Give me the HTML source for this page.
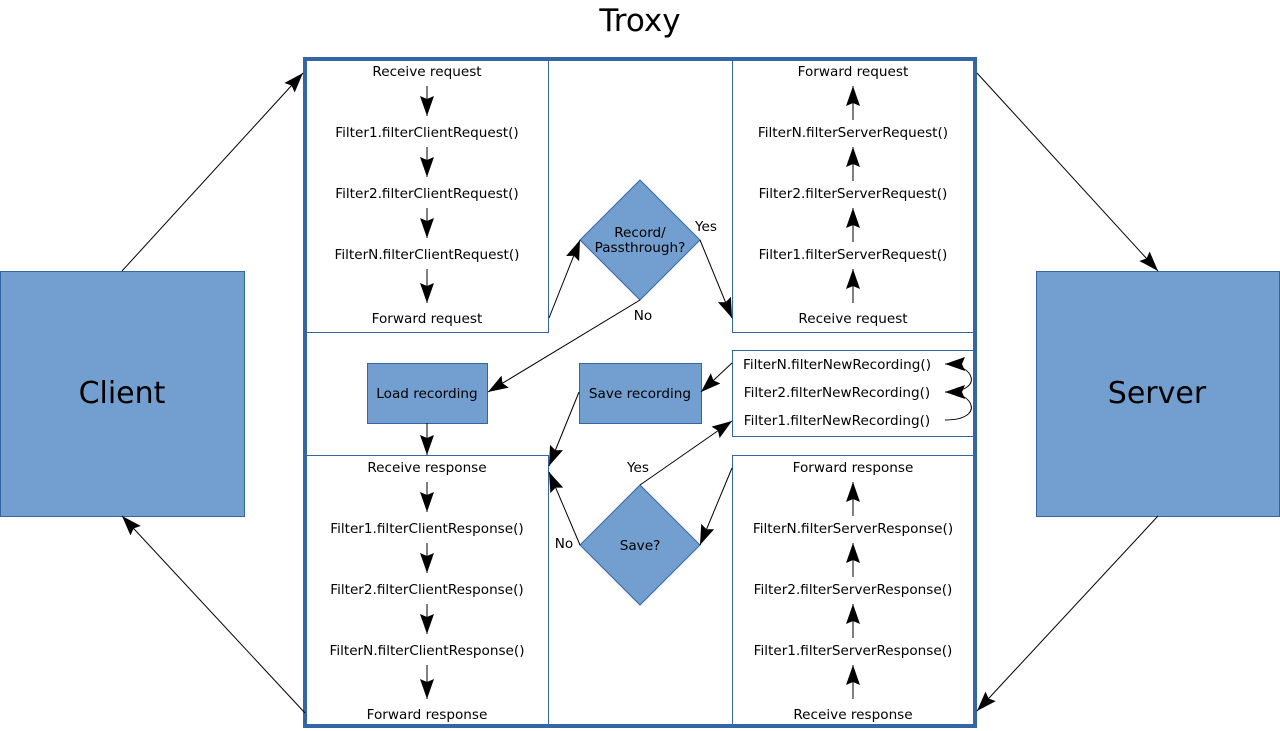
<!DOCTYPE html>
<html><head><meta charset="utf-8"><style>
html,body{margin:0;padding:0;background:#fff;}
svg{display:block;font-family:"DejaVu Sans","Liberation Sans",sans-serif;}
</style></head><body>
<svg width="1280" height="731" viewBox="0 0 1280 731" xmlns="http://www.w3.org/2000/svg">
<defs>
<marker id="a" viewBox="0 0 20 14" refX="20" refY="7" markerWidth="20" markerHeight="15" markerUnits="userSpaceOnUse" orient="auto">
<path d="M0,0 L20,7 L0,14 L3,7 Z" fill="#000"/>
</marker>
</defs>
<text x="640" y="31" font-size="31" text-anchor="middle">Troxy</text>

<rect x="0.5" y="271.5" width="244" height="245" fill="#729fcf" stroke="#3465a4"/>
<text x="122" y="403" font-size="30" text-anchor="middle">Client</text>
<rect x="1036.5" y="271.5" width="243" height="245" fill="#729fcf" stroke="#3465a4"/>
<text x="1157" y="403" font-size="30" text-anchor="middle">Server</text>

<rect x="305" y="59" width="670" height="667" fill="#fff" stroke="#3465a4" stroke-width="4"/>

<g fill="none" stroke="#3465a4" stroke-width="1">
<path d="M307,60.5 H548.5 V332.5 H307"/>
<path d="M973,60.5 H732.5 V332.5 H973"/>
<path d="M307,455.5 H548.5 V725"/>
<path d="M973,455.5 H732.5 V725"/>
<path d="M973,350.5 H732.5 V436.5 H973"/>
</g>

<g font-size="13.6" text-anchor="middle" fill="#000">
<text x="427" y="76">Receive request</text>
<text x="427" y="137">Filter1.filterClientRequest()</text>
<text x="427" y="198">Filter2.filterClientRequest()</text>
<text x="427" y="259">FilterN.filterClientRequest()</text>
<text x="427" y="323">Forward request</text>

<text x="853" y="76">Forward request</text>
<text x="853" y="137">FilterN.filterServerRequest()</text>
<text x="853" y="198">Filter2.filterServerRequest()</text>
<text x="853" y="259">Filter1.filterServerRequest()</text>
<text x="853" y="323">Receive request</text>

<text x="427" y="472">Receive response</text>
<text x="427" y="533">Filter1.filterClientResponse()</text>
<text x="427" y="594">Filter2.filterClientResponse()</text>
<text x="427" y="655">FilterN.filterClientResponse()</text>
<text x="427" y="719">Forward response</text>

<text x="853" y="472">Forward response</text>
<text x="853" y="533">FilterN.filterServerResponse()</text>
<text x="853" y="594">Filter2.filterServerResponse()</text>
<text x="853" y="655">Filter1.filterServerResponse()</text>
<text x="853" y="719">Receive response</text>

<text x="837" y="369">FilterN.filterNewRecording()</text>
<text x="837" y="397">Filter2.filterNewRecording()</text>
<text x="837" y="425">Filter1.filterNewRecording()</text>
</g>

<g fill="#729fcf" stroke="#3465a4">
<path d="M640,180 L700,240 L640,300 L580,240 Z"/>
<path d="M640,485 L700,545 L640,605 L580,545 Z"/>
<rect x="367.5" y="363.5" width="120" height="60"/>
<rect x="579.5" y="363.5" width="122" height="60"/>
</g>
<g font-size="13.6" text-anchor="middle">
<text x="640" y="237">Record/</text>
<text x="640" y="252">Passthrough?</text>
<text x="640" y="550">Save?</text>
<text x="427" y="398">Load recording</text>
<text x="640" y="398">Save recording</text>
<text x="706" y="231">Yes</text>
<text x="643" y="320">No</text>
<text x="638" y="472">Yes</text>
<text x="564" y="548">No</text>
</g>

<g stroke="#000" stroke-width="1" fill="none" marker-end="url(#a)">
<path d="M427,86 V116"/><path d="M427,147 V177"/><path d="M427,208 V238"/><path d="M427,269 V303"/>
<path d="M853,303 V269"/><path d="M853,242 V208"/><path d="M853,181 V147"/><path d="M853,120 V86"/>
<path d="M427,482 V512"/><path d="M427,543 V573"/><path d="M427,604 V634"/><path d="M427,665 V699"/>
<path d="M853,699 V665"/><path d="M853,638 V604"/><path d="M853,577 V543"/><path d="M853,516 V482"/>
<path d="M122,271 L303,73"/>
<path d="M549,318 L580,240"/>
<path d="M700,240 L732,318"/>
<path d="M640,300 L488,392"/>
<path d="M427,423 V455"/>
<path d="M732,363 L701,392"/>
<path d="M579,392 L549,466"/>
<path d="M640,485 L732,421"/>
<path d="M580,545 L549,472"/>
<path d="M732,468 L700,545"/>
<path d="M977,73 L1158,271"/>
<path d="M1158,516 L977,711"/>
<path d="M305,713 L122,516"/>
<path d="M945,420 C985,420 975,392 945,392"/>
<path d="M945,392 C985,392 975,364 945,364"/>
</g>
</svg>
</body></html>
